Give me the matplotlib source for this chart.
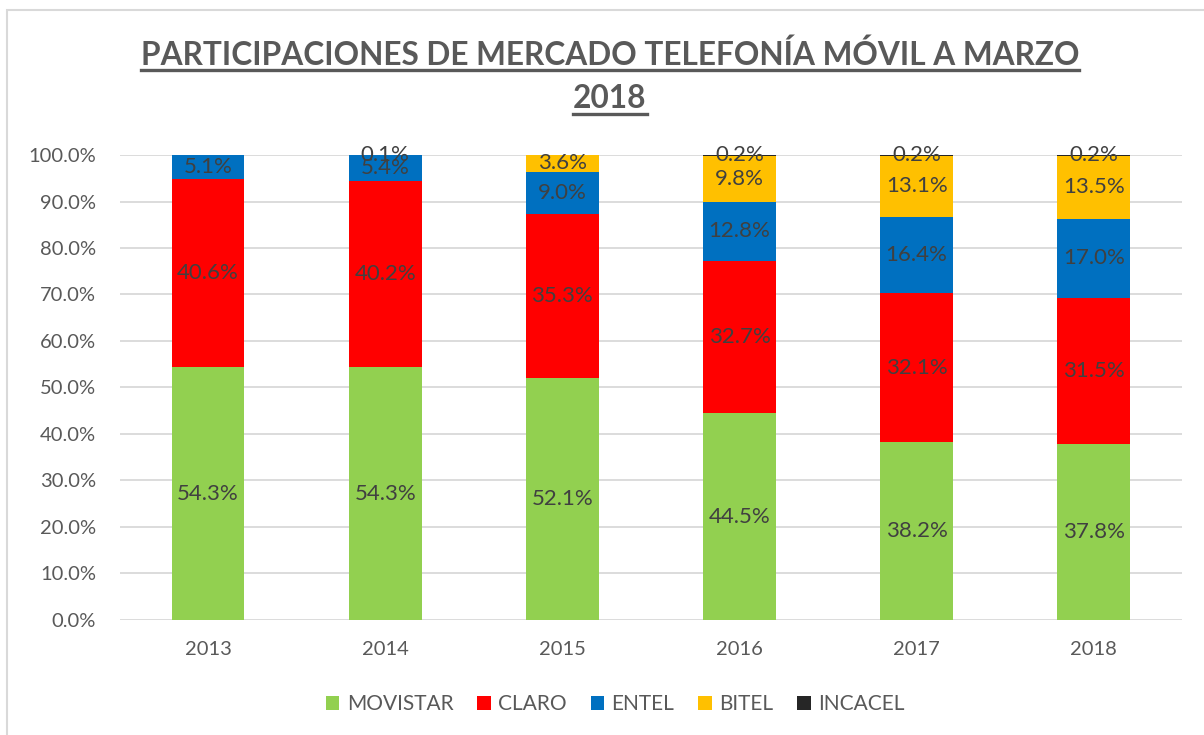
import matplotlib.pyplot as plt
from matplotlib.patches import Rectangle
from matplotlib.lines import Line2D
from matplotlib.ticker import PercentFormatter
import numpy as np

plt.rcParams['font.family'] = ['Lato', 'DejaVu Sans']

years = ["2013", "2014", "2015", "2016", "2017", "2018"]
movistar = [54.3, 54.3, 52.1, 44.5, 38.2, 37.8]
claro = [40.6, 40.2, 35.3, 32.7, 32.1, 31.5]
entel = [5.1, 5.4, 9.0, 12.8, 16.4, 17.0]
bitel = [0.0, 0.0, 3.6, 9.8, 13.1, 13.5]
incacel = [0.0, 0.1, 0.0, 0.2, 0.2, 0.2]

names = ["MOVISTAR", "CLARO", "ENTEL", "BITEL", "INCACEL"]
series = [movistar, claro, entel, bitel, incacel]
colors = ["#92D050", "#FF0000", "#0070C0", "#FFC000", "#262626"]

fig = plt.figure(figsize=(12.04, 7.35), dpi=100)
ax = fig.add_axes([0.0993, 0.1565, 0.8827, 0.6326])

x = np.arange(len(years))
bottom = np.zeros(len(years))
for name, vals, col in zip(names, series, colors):
    vals = np.array(vals)
    ax.bar(x, vals, 0.41, bottom=bottom, color=col, label=name, zorder=3)
    # labels only for segments that exist
    for xi, b, v in zip(x, bottom, vals):
        if v > 0:
            ax.text(xi, b + v / 2, f"{v:.1f}%", ha="center", va="center",
                    fontsize=16, color="#404040", zorder=4)
    bottom += vals

ax.set_xlim(-0.5, len(years) - 0.5)
ax.set_ylim(0, 100)
ax.set_yticks(np.arange(0, 101, 10))
ax.yaxis.set_major_formatter(PercentFormatter(decimals=1))
ax.set_xticks(x)
ax.set_xticklabels(years)
ax.tick_params(axis="both", length=0, labelsize=14.5, colors="#595959")
ax.tick_params(axis="x", pad=15)
ax.tick_params(axis="y", pad=17)
ax.grid(axis="y", color="#d9d9d9", lw=1.3, zorder=0)
for s in ax.spines.values():
    s.set_visible(False)

# title with underline
title_lines = ["PARTICIPACIONES DE MERCADO TELEFONÍA MÓVIL A MARZO", "2018"]
title_y = [0.9116, 0.853]
fig.canvas.draw()
renderer = fig.canvas.get_renderer()
for line, ty in zip(title_lines, title_y):
    t = fig.text(0.5065, ty, line, ha="center", va="baseline", fontsize=22.8,
                 fontweight="bold", color="#595959")
    bb = t.get_window_extent(renderer).transformed(fig.transFigure.inverted())
    fig.add_artist(Line2D([bb.x0, bb.x1], [ty - 0.0075, ty - 0.0075],
                          color="#595959", lw=2.4))

fig.legend(loc="center", bbox_to_anchor=(0.511, 0.042), ncol=5, frameon=False,
           fontsize=15, labelcolor="#595959", handlelength=0.65, handleheight=0.65,
           handletextpad=0.35, columnspacing=1.15)

# chart border (only top and left edges are inside the picture)
fig.add_artist(Rectangle((0.006, -0.1), 1.1, 1.087, transform=fig.transFigure,
                         fill=False, edgecolor="#d9d9d9", lw=1.5))

fig.savefig("out.png", dpi=100)
